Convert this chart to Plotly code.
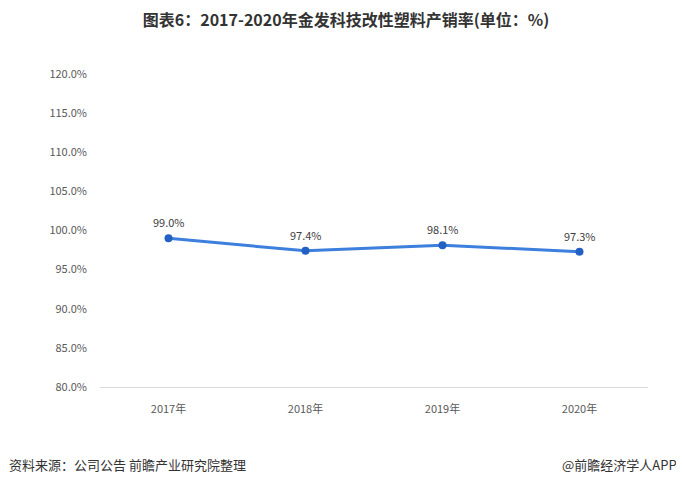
import plotly.graph_objects as go

years = ["2017年", "2018年", "2019年", "2020年"]
rates = [99.0, 97.4, 98.1, 97.3]
y_ticks = [80, 85, 90, 95, 100, 105, 110, 115, 120]
y_tick_labels = [f"{v:.1f}%" for v in y_ticks]
labels = [f"{v:.1f}%" for v in rates]

title = "图表6：2017-2020年金发科技改性塑料产销率(单位：%)"
source = "资料来源：公司公告 前瞻产业研究院整理"
brand = "@前瞻经济学人APP"

font_family = "Noto Sans CJK SC, Microsoft YaHei, sans-serif"

# page body has an 8px default margin, so the figure is sized 8px smaller
W, H = 676, 476
ML, MR, MT, MB = 92, 36, 66, 97
PW, PH = W - ML - MR, H - MT - MB

fig = go.Figure()
fig.add_trace(go.Scatter(
    x=years, y=rates, mode="lines+markers",
    line=dict(color="#3d7fdc", width=3),
    marker=dict(color="#2260c4", size=8),
    cliponaxis=False, hoverinfo="skip"
))

annotations = [
    dict(x=xv, y=yv, text=t, xref="x", yref="y", showarrow=False,
         yshift=16, font=dict(size=11, color="#404040", family=font_family))
    for xv, yv, t in zip(years, rates, labels)
]
annotations += [
    dict(text=source, xref="paper", yref="paper", x=(-1 - ML) / PW, y=-78 / PH,
         xanchor="left", yanchor="middle", showarrow=False,
         font=dict(size=13, color="#333333", family=font_family)),
    dict(text=brand, xref="paper", yref="paper", x=(671 - ML) / PW, y=-78 / PH,
         xanchor="right", yanchor="middle", showarrow=False,
         font=dict(size=13, color="#333333", family=font_family)),
]

fig.update_layout(
    width=W, height=H,
    margin=dict(l=ML, r=MR, t=MT, b=MB),
    paper_bgcolor="white", plot_bgcolor="white",
    showlegend=False,
    font=dict(family=font_family, color="#595959", size=11),
    title=dict(text=f"<b>{title}</b>", x=0.5, xanchor="center", y=1 - 12 / H, yanchor="middle",
               font=dict(size=16, color="#333333", family=font_family)),
    xaxis=dict(range=[-0.5, 3.5], showgrid=False, showline=True, linecolor="#d9d9d9", linewidth=1,
               ticks="", tickfont=dict(size=11, color="#595959"), ticklabelstandoff=12),
    yaxis=dict(range=[80, 120], tickvals=y_ticks, ticktext=y_tick_labels,
               showgrid=False, showline=False, zeroline=False, ticks="",
               tickfont=dict(size=11, color="#595959"), ticklabelstandoff=12),
    annotations=annotations,
)

fig.write_html("out.html")
